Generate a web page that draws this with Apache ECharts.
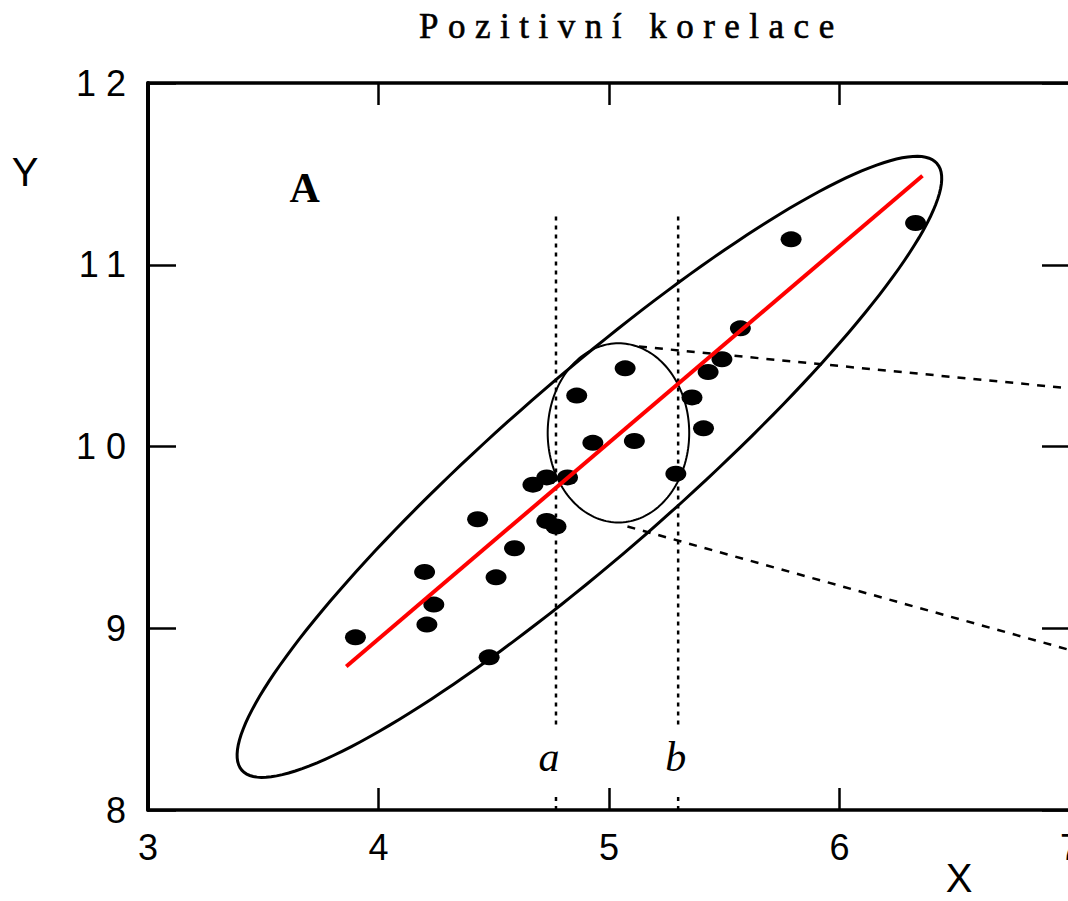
<!DOCTYPE html>
<html>
<head>
<meta charset="utf-8">
<title>Pozitivní korelace</title>
<script src="https://cdn.jsdelivr.net/npm/echarts@6/dist/echarts.min.js"></script>
<style>
  html, body { margin: 0; padding: 0; background: #fff; }
  #chart { width: 1068px; height: 901px; }
</style>
</head>
<body>
<div id="chart"></div>
<script>
// Observations (X, Y)
const xValues = [3.90, 4.20, 4.21, 4.24, 4.48, 4.43, 4.51, 4.59, 4.67, 4.73, 4.82, 4.73, 4.77,
                 4.86, 4.93, 5.07, 5.11, 5.29, 5.36, 5.41, 5.43, 5.49, 5.57, 5.79, 6.33];
const yValues = [8.95, 9.31, 9.02, 9.13, 8.84, 9.60, 9.28, 9.44, 9.79, 9.83, 9.83, 9.59, 9.56,
                 10.28, 10.02, 10.43, 10.03, 9.85, 10.27, 10.10, 10.41, 10.48, 10.65, 11.14, 11.23];

// Regression line end points
const fitX = [3.86, 6.36];
const fitY = [8.79, 11.49];

// Axis ranges and tick labels
const xTicks = [3, 4, 5, 6, 7];
const yTicks = [8, 9, 10, 11, 12];

// Vertical slices a and b
const sliceNames = ['a', 'b'];
const sliceX = [4.77, 5.30];
const sliceSpan = [8.47, 11.27];
const sliceStub = [8.0, 8.08];
const sliceLabelX = [4.74, 5.29];
const sliceLabelY = 8.29;

// Rays leaving the conditional ellipse
const rayUpper = [[5.13, 10.55], [7.0, 10.32]];
const rayLower = [[5.08, 9.56], [7.0, 8.88]];

// Ellipses: centre and two conjugate semi-axes in data units
const outerEllipse = { center: [4.915, 9.888], u: [1.508, 1.669], v: [0.2495, -0.3656] };
const innerEllipse = { center: [5.041, 10.075], u: [0.307, 0], v: [0, 0.493] };

// Panel letter
const panelLabel = { text: 'A', at: [3.68, 11.42] };

const titleText = 'Pozitivní korelace';

const points = xValues.map((x, i) => [x, yValues[i]]);

const sans = 'Liberation Sans, Arial, sans-serif';
const serifLabel = 'Times New Roman, Liberation Serif, serif';

function ellipseRenderer(e, width) {
  return function (params, api) {
    const pts = [];
    const n = 180;
    for (let i = 0; i < n; i++) {
      const t = (i / n) * Math.PI * 2;
      const c = Math.cos(t), s = Math.sin(t);
      pts.push(api.coord([
        e.center[0] + e.u[0] * c + e.v[0] * s,
        e.center[1] + e.u[1] * c + e.v[1] * s
      ]));
    }
    return {
      type: 'polygon',
      shape: { points: pts },
      style: { fill: 'none', stroke: '#000', lineWidth: width },
      silent: true
    };
  };
}

function segment(data, style, z) {
  return {
    type: 'line', data: data, showSymbol: false, symbol: 'none', silent: true,
    lineStyle: style, z: z || 2, animation: false
  };
}

// Letters placed at data positions: [x, y, text, weight, style]
const letterData = [
  [panelLabel.at[0], panelLabel.at[1], panelLabel.text, 'bold', 'normal'],
  ...sliceNames.map((n, i) => [sliceLabelX[i], sliceLabelY, n, 'normal', 'italic'])
];

function letterRenderer(params, api) {
  const p = api.coord([api.value(0), api.value(1)]);
  const item = letterData[params.dataIndex];
  return {
    type: 'text',
    x: p[0], y: p[1],
    style: {
      text: item[2],
      fontFamily: serifLabel, fontSize: 42, fontWeight: item[3], fontStyle: item[4],
      fill: '#000', align: 'center', verticalAlign: 'middle'
    },
    silent: true
  };
}

const option = {
  animation: false,
  backgroundColor: '#fff',
  title: {
    text: titleText,
    left: 419, top: 9, padding: 0,
    textStyle: { fontFamily: 'Liberation Serif, serif', fontSize: 35, fontWeight: 'normal', color: '#000',
                 textBorderColor: '#000', textBorderWidth: 0.6 }
  },
  grid: { left: 148, right: -2, top: 83, bottom: 91, outerBoundsMode: 'none', containLabel: false },
  xAxis: [
    {
      type: 'value', position: 'bottom', min: xTicks[0], max: xTicks[xTicks.length - 1], interval: 1,
      name: 'X', nameLocation: 'middle', nameGap: 51, nameMoveOverlap: false,
      nameTextStyle: { fontFamily: sans, fontSize: 40, lineHeight: 34, color: '#000', align: 'center', verticalAlign: 'top', padding: [0, 0, 0, 700] },
      axisLine: { show: true, onZero: false, lineStyle: { color: '#000', width: 3.5 } },
      axisTick: { show: true, inside: true, length: 22, lineStyle: { color: '#000', width: 2.5 } },
      axisLabel: { show: true, margin: 19, fontFamily: sans, fontSize: 36, color: '#000', showMinLabel: true, showMaxLabel: true },
      splitLine: { show: false }
    },
    {
      type: 'value', position: 'top', min: xTicks[0], max: xTicks[xTicks.length - 1], interval: 1,
      axisLine: { show: true, onZero: false, lineStyle: { color: '#000', width: 3.5 } },
      axisTick: { show: true, inside: true, length: 22, lineStyle: { color: '#000', width: 2.5 } },
      axisLabel: { show: false },
      splitLine: { show: false }
    }
  ],
  yAxis: [
    {
      type: 'value', position: 'left', min: yTicks[0], max: yTicks[yTicks.length - 1], interval: 1,
      name: 'Y', nameLocation: 'end', nameGap: -89, nameMoveOverlap: false,
      nameTextStyle: { fontFamily: sans, fontSize: 40, color: '#000', align: 'center', verticalAlign: 'middle', padding: [0, 246, 0, 0] },
      axisLine: { show: true, onZero: false, lineStyle: { color: '#000', width: 4 } },
      axisTick: { show: true, inside: true, length: 28, lineStyle: { color: '#000', width: 2.5 } },
      axisLabel: { show: true, margin: 12, fontFamily: sans, fontSize: 36, color: '#000', showMinLabel: true, showMaxLabel: true },
      splitLine: { show: false }
    },
    {
      type: 'value', position: 'right', min: yTicks[0], max: yTicks[yTicks.length - 1], interval: 1,
      axisLine: { show: true, onZero: false, lineStyle: { color: '#000', width: 3.5 } },
      axisTick: { show: true, inside: true, length: 28, lineStyle: { color: '#000', width: 2.5 } },
      axisLabel: { show: false },
      splitLine: { show: false }
    }
  ],
  series: [
    {
      type: 'custom', name: 'outer ellipse', silent: true, z: 1,
      data: [outerEllipse.center], encode: { x: 0, y: 1 },
      renderItem: ellipseRenderer(outerEllipse, 3)
    },
    {
      type: 'custom', name: 'conditional ellipse', silent: true, z: 1,
      data: [innerEllipse.center], encode: { x: 0, y: 1 },
      renderItem: ellipseRenderer(innerEllipse, 2)
    },
    // slices a, b
    ...sliceX.map(x => segment([[x, sliceSpan[0]], [x, sliceSpan[1]]], { color: '#000', width: 2.5, type: [4, 5] })),
    ...sliceX.map(x => segment([[x, sliceStub[0]], [x, sliceStub[1]]], { color: '#000', width: 2.5, type: [4, 5] })),
    // rays from the conditional ellipse
    segment(rayUpper, { color: '#000', width: 2.5, type: [8, 8] }),
    segment(rayLower, { color: '#000', width: 2.5, type: [8, 8] }),
    {
      type: 'scatter', name: 'data', z: 4, silent: true,
      symbol: 'circle', symbolSize: [21, 16],
      itemStyle: { color: '#000', opacity: 1 },
      data: points
    },
    segment([[fitX[0], fitY[0]], [fitX[1], fitY[1]]], { color: '#ff0000', width: 4, type: 'solid' }, 5),
    {
      type: 'custom', name: 'letters', silent: true, z: 6,
      data: letterData.map(d => [d[0], d[1]]), encode: { x: 0, y: 1 },
      renderItem: letterRenderer
    }
  ]
};

const chart = echarts.init(document.getElementById('chart'), null, { renderer: 'svg' });
chart.setOption(option);

// Wide letter spacing for the title and the two-digit Y tick numbers
const yTickText = yTicks.map(String);
function spaceLetters() {
  document.querySelectorAll('#chart text').forEach(function (t) {
    const s = t.textContent;
    if (s === titleText) {
      t.setAttribute('letter-spacing', '9.5');
      t.style.letterSpacing = '9.5px';
    } else if (yTickText.indexOf(s) >= 0) {
      t.setAttribute('letter-spacing', '10');
      t.style.letterSpacing = '10px';
    }
  });
}
spaceLetters();
chart.on('finished', spaceLetters);
</script>
</body>
</html>
